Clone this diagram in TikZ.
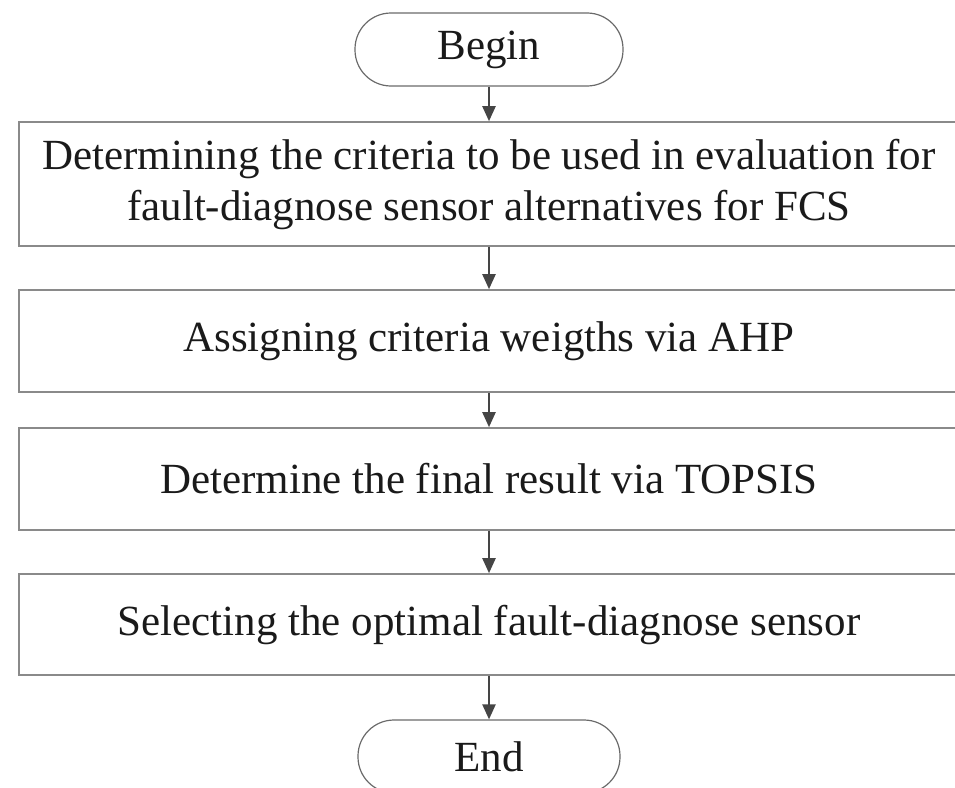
\documentclass[tikz,border=0pt]{standalone}
\usepackage{fontspec}
\setmainfont{Liberation Serif}
\usetikzlibrary{arrows.meta}
\definecolor{boxline}{HTML}{8A8A8A}
\definecolor{termline}{HTML}{6A6A6A}
\definecolor{arrowc}{HTML}{454545}
\definecolor{txt}{HTML}{1A1A1A}
\tikzset{
  procbox/.style={draw=boxline, line width=1.6pt, minimum width=940pt, inner sep=0pt,
    align=center, text=txt, font=\fontsize{43}{51}\selectfont},
  termbox/.style={draw=termline, line width=1.2pt, minimum height=73pt, rounded corners=36pt,
    inner sep=0pt, text=txt, font=\fontsize{43}{51}\selectfont},
  flow/.style={draw=arrowc, line width=2.2pt, -{Triangle[length=15pt,width=13pt]}}
}
\begin{document}
\begin{tikzpicture}[x=1pt,y=-1pt]
\useasboundingbox (0,0) rectangle (955,787);
\clip (0,0) rectangle (955,787);
\node[termbox, minimum width=268pt] (begin) at (489,49.5) {Begin};
\node[procbox, minimum height=124pt] (b1) at (489,184) {Determining the criteria to be used in evaluation for\\fault-diagnose sensor alternatives for FCS};
\node[procbox, minimum height=102pt] (b2) at (489,341) {Assigning criteria weigths via AHP};
\node[procbox, minimum height=102pt] (b3) at (489,479) {Determine the final result via TOPSIS};
\node[procbox, minimum height=101pt] (b4) at (489,624.5) {Selecting the optimal fault-diagnose sensor};
\node[termbox, minimum width=262pt] (end) at (489,756.5) {End};
\draw[flow] (begin) -- (b1);
\draw[flow] (b1) -- (b2);
\draw[flow] (b2) -- (b3);
\draw[flow] (b3) -- (b4);
\draw[flow] (b4) -- (end);
\end{tikzpicture}
\end{document}
